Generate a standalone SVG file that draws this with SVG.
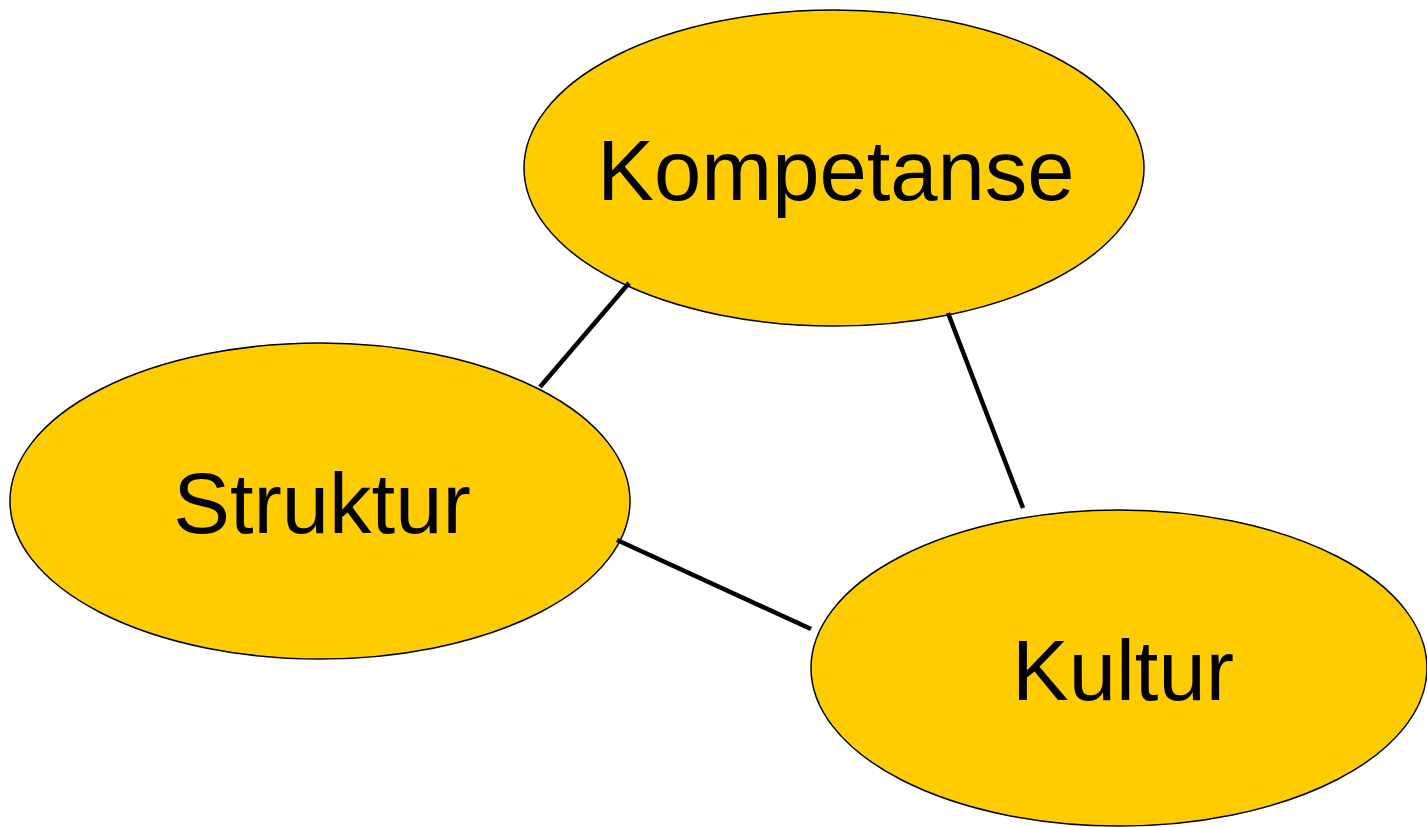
<svg xmlns="http://www.w3.org/2000/svg" width="1427" height="827" viewBox="0 0 1427 827">
<style>
.node ellipse{fill:#FFCC00;stroke:#000;stroke-width:1.5}
.node text{font-family:"Liberation Sans",Arial,sans-serif;font-size:85px;fill:#000;text-anchor:middle}
.conn line{stroke:#000;stroke-width:4.5}
</style>
<rect width="1427" height="827" fill="#fff"/>
<g id="kompetanse" class="node">
<ellipse cx="834" cy="168" rx="310" ry="158"/>
<text x="836" y="200">Kompetanse</text>
</g>
<g id="struktur" class="node">
<ellipse cx="320" cy="501" rx="310" ry="158"/>
<text x="322" y="533">Struktur</text>
</g>
<g id="kultur" class="node">
<ellipse cx="1119" cy="668" rx="308" ry="158"/>
<text x="1123" y="700">Kultur</text>
</g>
<g id="connectors" class="conn">
<line x1="629" y1="283" x2="540" y2="387"/>
<line x1="948" y1="313" x2="1023" y2="508"/>
<line x1="617" y1="540" x2="811" y2="629"/>
</g>
</svg>
